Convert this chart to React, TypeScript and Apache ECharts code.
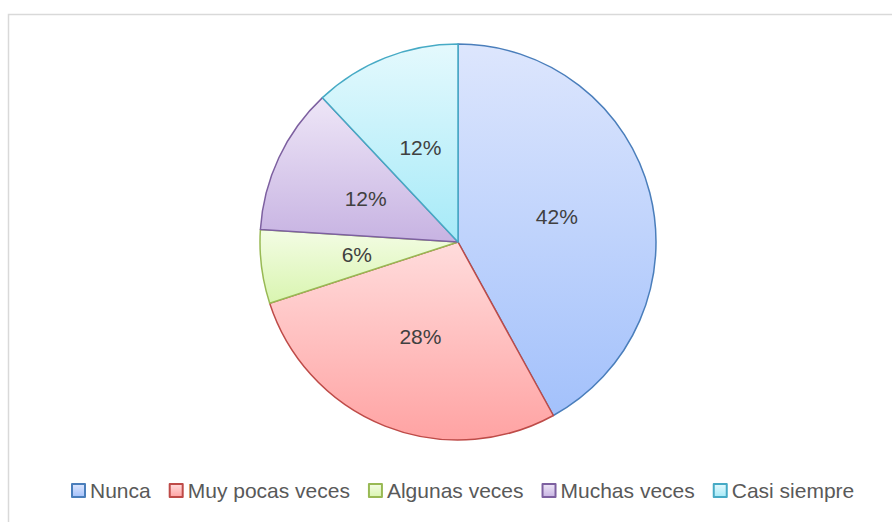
import React, { useEffect, useRef } from "react";
import * as echarts from "echarts";

const categories = ["Nunca", "Muy pocas veces", "Algunas veces", "Muchas veces", "Casi siempre"];
const values = [42, 28, 6, 12, 12];
const topColors = ["#dde6fd", "#ffdcdc", "#f3fce4", "#eee6f7", "#e4f9fd"];
const bottomColors = ["#a3c1fb", "#ffa3a3", "#d9f5b0", "#c7b3e2", "#a6eaf8"];
const borderColors = ["#4a7ebb", "#be4b48", "#98b954", "#7d60a0", "#46aac5"];

const FONT = "'Liberation Sans', Arial, sans-serif";

export default function App() {
  const ref = useRef<HTMLDivElement>(null);
  useEffect(() => {
    if (!ref.current) return;
    const chart = echarts.init(ref.current, null, { renderer: "svg" });
    const data = categories.map((name, i) => ({
      name,
      value: values[i],
      itemStyle: {
        color: new echarts.graphic.LinearGradient(0, 0, 0, 1, [
          { offset: 0, color: topColors[i] },
          { offset: 1, color: bottomColors[i] },
        ]),
        borderColor: borderColors[i],
        borderWidth: 1.5,
      },
    }));
    chart.setOption({
      animation: false,
      backgroundColor: "#ffffff",
      graphic: [
        {
          type: "rect",
          shape: { x: 8.5, y: 14.5, width: 900, height: 600 },
          style: { fill: "none", stroke: "#d9d9d9", lineWidth: 1.5 },
          silent: true,
        },
      ],
      legend: {
        left: 66,
        top: 475,
        itemWidth: 13,
        itemHeight: 13,
        itemGap: 18,
        icon: "rect",
        textStyle: { color: "#595959", fontSize: 21, fontFamily: FONT },
        data: categories,
      },
      series: [
        {
          type: "pie",
          center: [458, 242],
          radius: 198,
          startAngle: 90,
          clockwise: true,
          data,
          label: {
            show: true,
            position: "inside",
            formatter: "{c}%",
            color: "#404040",
            fontSize: 21,
            fontFamily: FONT,
          },
          labelLine: { show: false },
          emphasis: { disabled: true },
        },
      ],
    });
    return () => chart.dispose();
  }, []);
  return (
    <div
      ref={ref}
      style={{ position: "absolute", left: 0, top: 0, width: 892, height: 522 }}
    />
  );
}
